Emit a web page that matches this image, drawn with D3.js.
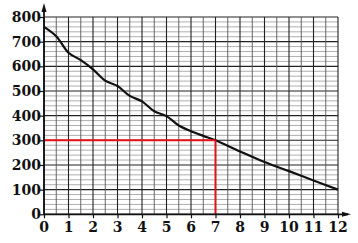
<!DOCTYPE html>
<html><head><meta charset="utf-8">
<script src="https://cdn.jsdelivr.net/npm/d3@7/dist/d3.min.js"></script>
<style>body{margin:0;background:#fff}svg{display:block}</style>
</head><body>
<svg id="c" width="358" height="243"></svg>
<script>
const xTicks = [0,1,2,3,4,5,6,7,8,9,10,11,12];
const yTicks = [0,100,200,300,400,500,600,700,800];
const curveX = [0,0.5,1,1.5,2,2.5,3,3.5,4,4.5,5,5.5,6,6.5,7,8,9,10,11,12];
const curveY = [760,722,655,625,588,542,520,480,458,418,398,360,337,318,300,255,212,175,137,100];
const markX = [7];
const markY = [300];

const svg = d3.select("#c");
const x = d3.scaleLinear().domain([0,12]).range([44,338]);
const y = d3.scaleLinear().domain([0,800]).range([214.3,17]);

const g = svg.append("g");
d3.range(0,801,20).forEach(v=>{
  const major = v%100===0;
  g.append("line").attr("x1",x(0)).attr("x2",x(12)).attr("y1",y(v)).attr("y2",y(v))
   .attr("stroke", major?"#222":"#9a9a9a").attr("stroke-width", major?1.1:0.8);
});
d3.range(0,12.01,0.5).forEach(v=>{
  const major = v%1===0;
  g.append("line").attr("x1",x(v)).attr("x2",x(v)).attr("y1",y(0)).attr("y2",y(800))
   .attr("stroke", major?"#222":"#555").attr("stroke-width", major?1.1:0.9);
});

const line = d3.line().x(d=>x(d[0])).y(d=>y(d[1])).curve(d3.curveCatmullRom);
svg.append("path").datum(curveX.map((v,i)=>[v,curveY[i]]))
  .attr("d",line).attr("fill","none").attr("stroke","#111").attr("stroke-width",2.2);

svg.append("line").attr("x1",x(0)).attr("x2",x(markX[0])).attr("y1",y(markY[0])).attr("y2",y(markY[0]))
  .attr("stroke","#e3121b").attr("stroke-width",2);
svg.append("line").attr("x1",x(markX[0])).attr("x2",x(markX[0])).attr("y1",y(0)).attr("y2",y(markY[0]))
  .attr("stroke","#e3121b").attr("stroke-width",2);

const xAxis = d3.axisBottom(x).tickValues(xTicks).tickSize(4).tickFormat("");
const yAxis = d3.axisLeft(y).tickValues(yTicks).tickSize(4).tickFormat("");
const ax = svg.append("g").attr("transform",`translate(0,${y(0)})`).call(xAxis);
const ay = svg.append("g").attr("transform",`translate(${x(0)},0)`).call(yAxis);
[ax,ay].forEach(a=>{
  a.select(".domain").remove();
  a.selectAll(".tick line").attr("stroke","#111").attr("stroke-width",1.2);
});
const font = "'DejaVu Serif','Liberation Serif',serif";
svg.append("g").selectAll("text").data(xTicks).join("text")
  .attr("x",d=>x(d)).attr("y",232).attr("text-anchor","middle")
  .attr("font-family",font).attr("font-size",14).attr("font-weight","bold").attr("fill","#111")
  .text(d=>d);
svg.append("g").selectAll("text").data(yTicks).join("text")
  .attr("x",41).attr("y",d=>y(d)+5).attr("text-anchor","end")
  .attr("font-family",font).attr("font-size",14).attr("font-weight","bold").attr("fill","#111")
  .text(d=>d);

svg.append("line").attr("x1",x(0)).attr("x2",348).attr("y1",y(0)).attr("y2",y(0)).attr("stroke","#111").attr("stroke-width",1.8);
svg.append("line").attr("x1",x(0)).attr("x2",x(0)).attr("y1",y(0)).attr("y2",7).attr("stroke","#111").attr("stroke-width",1.8);
svg.append("path").attr("d",`M351,${y(0)} L342,${y(0)-2.5} L342,${y(0)+2.5} Z`).attr("fill","#111");
svg.append("path").attr("d",`M${x(0)},3 L${x(0)-2.5},12 L${x(0)+2.5},12 Z`).attr("fill","#111");
</script>
</body></html>
